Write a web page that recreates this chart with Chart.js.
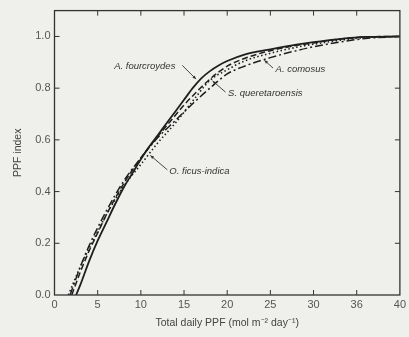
<!DOCTYPE html>
<html>
<head>
<meta charset="utf-8">
<script src="https://cdn.jsdelivr.net/npm/chart.js@4"></script>
<style>
  html, body { margin: 0; padding: 0; background: #efefec; }
  #wrap { width: 409px; height: 337px; }
</style>
</head>
<body>
<div id="wrap"><canvas id="chart" width="409" height="337"></canvas></div>
<script>
// Оси
const xTickValues = [0, 5, 10, 15, 20, 25, 30, 35, 40];
const xTickLabels = ['0', '5', '10', '15', '20', '25', '30', '36', '40'];
const yTickValues = [0, 0.2, 0.4, 0.6, 0.8, 1.0];

// A. fourcroydes (сплошная)
const fourcroydesX = [2.5, 3, 4, 5, 6, 7, 8, 9, 10, 11, 12, 13, 14, 15, 16, 17, 18, 19, 20, 22, 25, 28, 30, 33, 36, 40];
const fourcroydesY = [0, 0.04, 0.13, 0.21, 0.28, 0.35, 0.415, 0.47, 0.525, 0.575, 0.62, 0.665, 0.71, 0.755, 0.8, 0.838, 0.866, 0.888, 0.905, 0.93, 0.95, 0.968, 0.978, 0.99, 0.998, 1.0];

// S. queretaroensis (штрих)
const queretaroensisX = [2.0, 3, 4, 5, 6, 8, 10, 12, 14, 15, 16, 18, 20, 22, 25, 28, 30, 33, 36, 40];
const queretaroensisY = [0, 0.09, 0.17, 0.24, 0.31, 0.43, 0.53, 0.615, 0.695, 0.735, 0.77, 0.835, 0.885, 0.915, 0.945, 0.965, 0.975, 0.99, 0.998, 1.0];

// O. ficus-indica (точки)
const ficusX = [1.6, 3, 4, 5, 6, 8, 10, 12, 14, 16, 18, 20, 22, 25, 28, 30, 33, 36, 40];
const ficusY = [0, 0.11, 0.18, 0.245, 0.31, 0.42, 0.505, 0.59, 0.665, 0.75, 0.83, 0.871, 0.905, 0.935, 0.958, 0.97, 0.985, 0.996, 1.0];

// A. comosus (штрих-пунктир)
const comosusX = [1.8, 3, 4, 5, 6, 8, 10, 12, 14, 16, 18, 20, 22, 25, 28, 30, 33, 36, 40];
const comosusY = [0, 0.11, 0.19, 0.26, 0.325, 0.44, 0.53, 0.61, 0.675, 0.74, 0.8, 0.855, 0.885, 0.918, 0.945, 0.96, 0.978, 0.992, 1.0];

// Подписи кривых: текст, позиция текста, начало и конец выноски (в единицах данных)
const labelTexts = ['A. fourcroydes', 'A. comosus', 'S. queretaroensis', 'O. ficus-indica'];
const labelAt = [[14.0, 0.884], [25.6, 0.874], [20.1, 0.78], [13.3, 0.477]];
const labelAlign = ['right', 'left', 'left', 'left'];
const leaderFrom = [[14.8, 0.888], [25.3, 0.878], [19.8, 0.785], [13.07, 0.484]];
const leaderTo = [[16.4, 0.835], [24.3, 0.908], [18.3, 0.828], [11.1, 0.54]];

const toPoints = (xs, ys) => xs.map((x, i) => ({ x, y: ys[i] }));

const INK = '#1e1e1e';
const FONT = '"Liberation Sans", Arial, sans-serif';

// Рамка, внутренние засечки и подписи с выносками
const framePlugin = {
  id: 'frame',
  beforeDraw(chart) {
    const { ctx, width, height } = chart;
    ctx.save();
    ctx.fillStyle = '#efefec';
    ctx.fillRect(0, 0, width, height);
    ctx.restore();
  },
  afterDatasetsDraw(chart) {
    const { ctx, chartArea: a, scales: { x, y } } = chart;
    ctx.save();
    ctx.strokeStyle = '#333';
    ctx.lineWidth = 1.3;
    ctx.strokeRect(a.left, a.top, a.right - a.left, a.bottom - a.top);
    const len = 5;
    ctx.lineWidth = 1;
    ctx.beginPath();
    xTickValues.slice(1, -1).forEach(v => {
      const px = x.getPixelForValue(v);
      ctx.moveTo(px, a.bottom); ctx.lineTo(px, a.bottom - len);
      ctx.moveTo(px, a.top); ctx.lineTo(px, a.top + len);
    });
    yTickValues.slice(1).forEach(v => {
      const py = y.getPixelForValue(v);
      ctx.moveTo(a.left, py); ctx.lineTo(a.left + len, py);
      ctx.moveTo(a.right, py); ctx.lineTo(a.right - len, py);
    });
    ctx.stroke();

    // подписи
    ctx.font = 'italic 9.5px ' + FONT;
    ctx.fillStyle = '#333';
    ctx.textBaseline = 'middle';
    labelTexts.forEach((t, i) => {
      ctx.textAlign = labelAlign[i];
      ctx.fillText(t, x.getPixelForValue(labelAt[i][0]), y.getPixelForValue(labelAt[i][1]));
      const x1 = x.getPixelForValue(leaderFrom[i][0]), y1 = y.getPixelForValue(leaderFrom[i][1]);
      const x2 = x.getPixelForValue(leaderTo[i][0]), y2 = y.getPixelForValue(leaderTo[i][1]);
      ctx.strokeStyle = '#333';
      ctx.lineWidth = 0.9;
      ctx.beginPath();
      ctx.moveTo(x1, y1); ctx.lineTo(x2, y2);
      ctx.stroke();
      // наконечник
      const ang = Math.atan2(y2 - y1, x2 - x1);
      ctx.beginPath();
      ctx.moveTo(x2, y2);
      ctx.lineTo(x2 - 4 * Math.cos(ang - 0.4), y2 - 4 * Math.sin(ang - 0.4));
      ctx.lineTo(x2 - 4 * Math.cos(ang + 0.4), y2 - 4 * Math.sin(ang + 0.4));
      ctx.closePath();
      ctx.fillStyle = '#333';
      ctx.fill();
    });
    ctx.restore();
  }
};

const lineStyle = {
  borderColor: INK,
  pointRadius: 0,
  fill: false,
  cubicInterpolationMode: 'monotone'
};

new Chart(document.getElementById('chart'), {
  type: 'line',
  data: {
    datasets: [
      { ...lineStyle, label: 'A. fourcroydes', data: toPoints(fourcroydesX, fourcroydesY), borderWidth: 1.8 },
      { ...lineStyle, label: 'S. queretaroensis', data: toPoints(queretaroensisX, queretaroensisY), borderWidth: 1.5, borderDash: [6, 3] },
      { ...lineStyle, label: 'O. ficus-indica', data: toPoints(ficusX, ficusY), borderWidth: 1.6, borderDash: [1.5, 2.5] },
      { ...lineStyle, label: 'A. comosus', data: toPoints(comosusX, comosusY), borderWidth: 1.5, borderDash: [8, 3, 2, 3] }
    ]
  },
  options: {
    responsive: false,
    animation: false,
    layout: { padding: { top: 7, right: 8, left: 12, bottom: 0 } },
    plugins: { legend: { display: false }, tooltip: { enabled: false } },
    scales: {
      x: {
        type: 'linear',
        min: 0,
        max: 40,
        afterBuildTicks: s => { s.ticks = xTickValues.map(v => ({ value: v })); },
        afterFit: s => { s.height = 42; },
        grid: { display: false, drawTicks: false, tickLength: 0 },
        border: { display: false },
        ticks: {
          padding: 3,
          color: '#555',
          font: { family: FONT, size: 11 },
          callback: v => xTickLabels[xTickValues.indexOf(v)]
        },
        title: {
          display: true,
          text: 'Total daily PPF (mol m\u207B\u00B2 day\u207B\u00B9)',
          color: '#444',
          padding: { top: 2, bottom: 8 },
          font: { family: FONT, size: 10.5 }
        }
      },
      y: {
        min: 0,
        max: 1.1,
        afterBuildTicks: s => { s.ticks = yTickValues.map(v => ({ value: v })); },
        afterFit: s => { s.width = 42.5; },
        grid: { display: false, drawTicks: false, tickLength: 0 },
        border: { display: false },
        ticks: {
          padding: 4,
          color: '#555',
          font: { family: FONT, size: 11 },
          callback: v => v.toFixed(1)
        },
        title: {
          display: true,
          text: 'PPF index',
          color: '#444',
          padding: { top: 0, bottom: 6 },
          font: { family: FONT, size: 10.5 }
        }
      }
    }
  },
  plugins: [framePlugin]
});
</script>
</body>
</html>
